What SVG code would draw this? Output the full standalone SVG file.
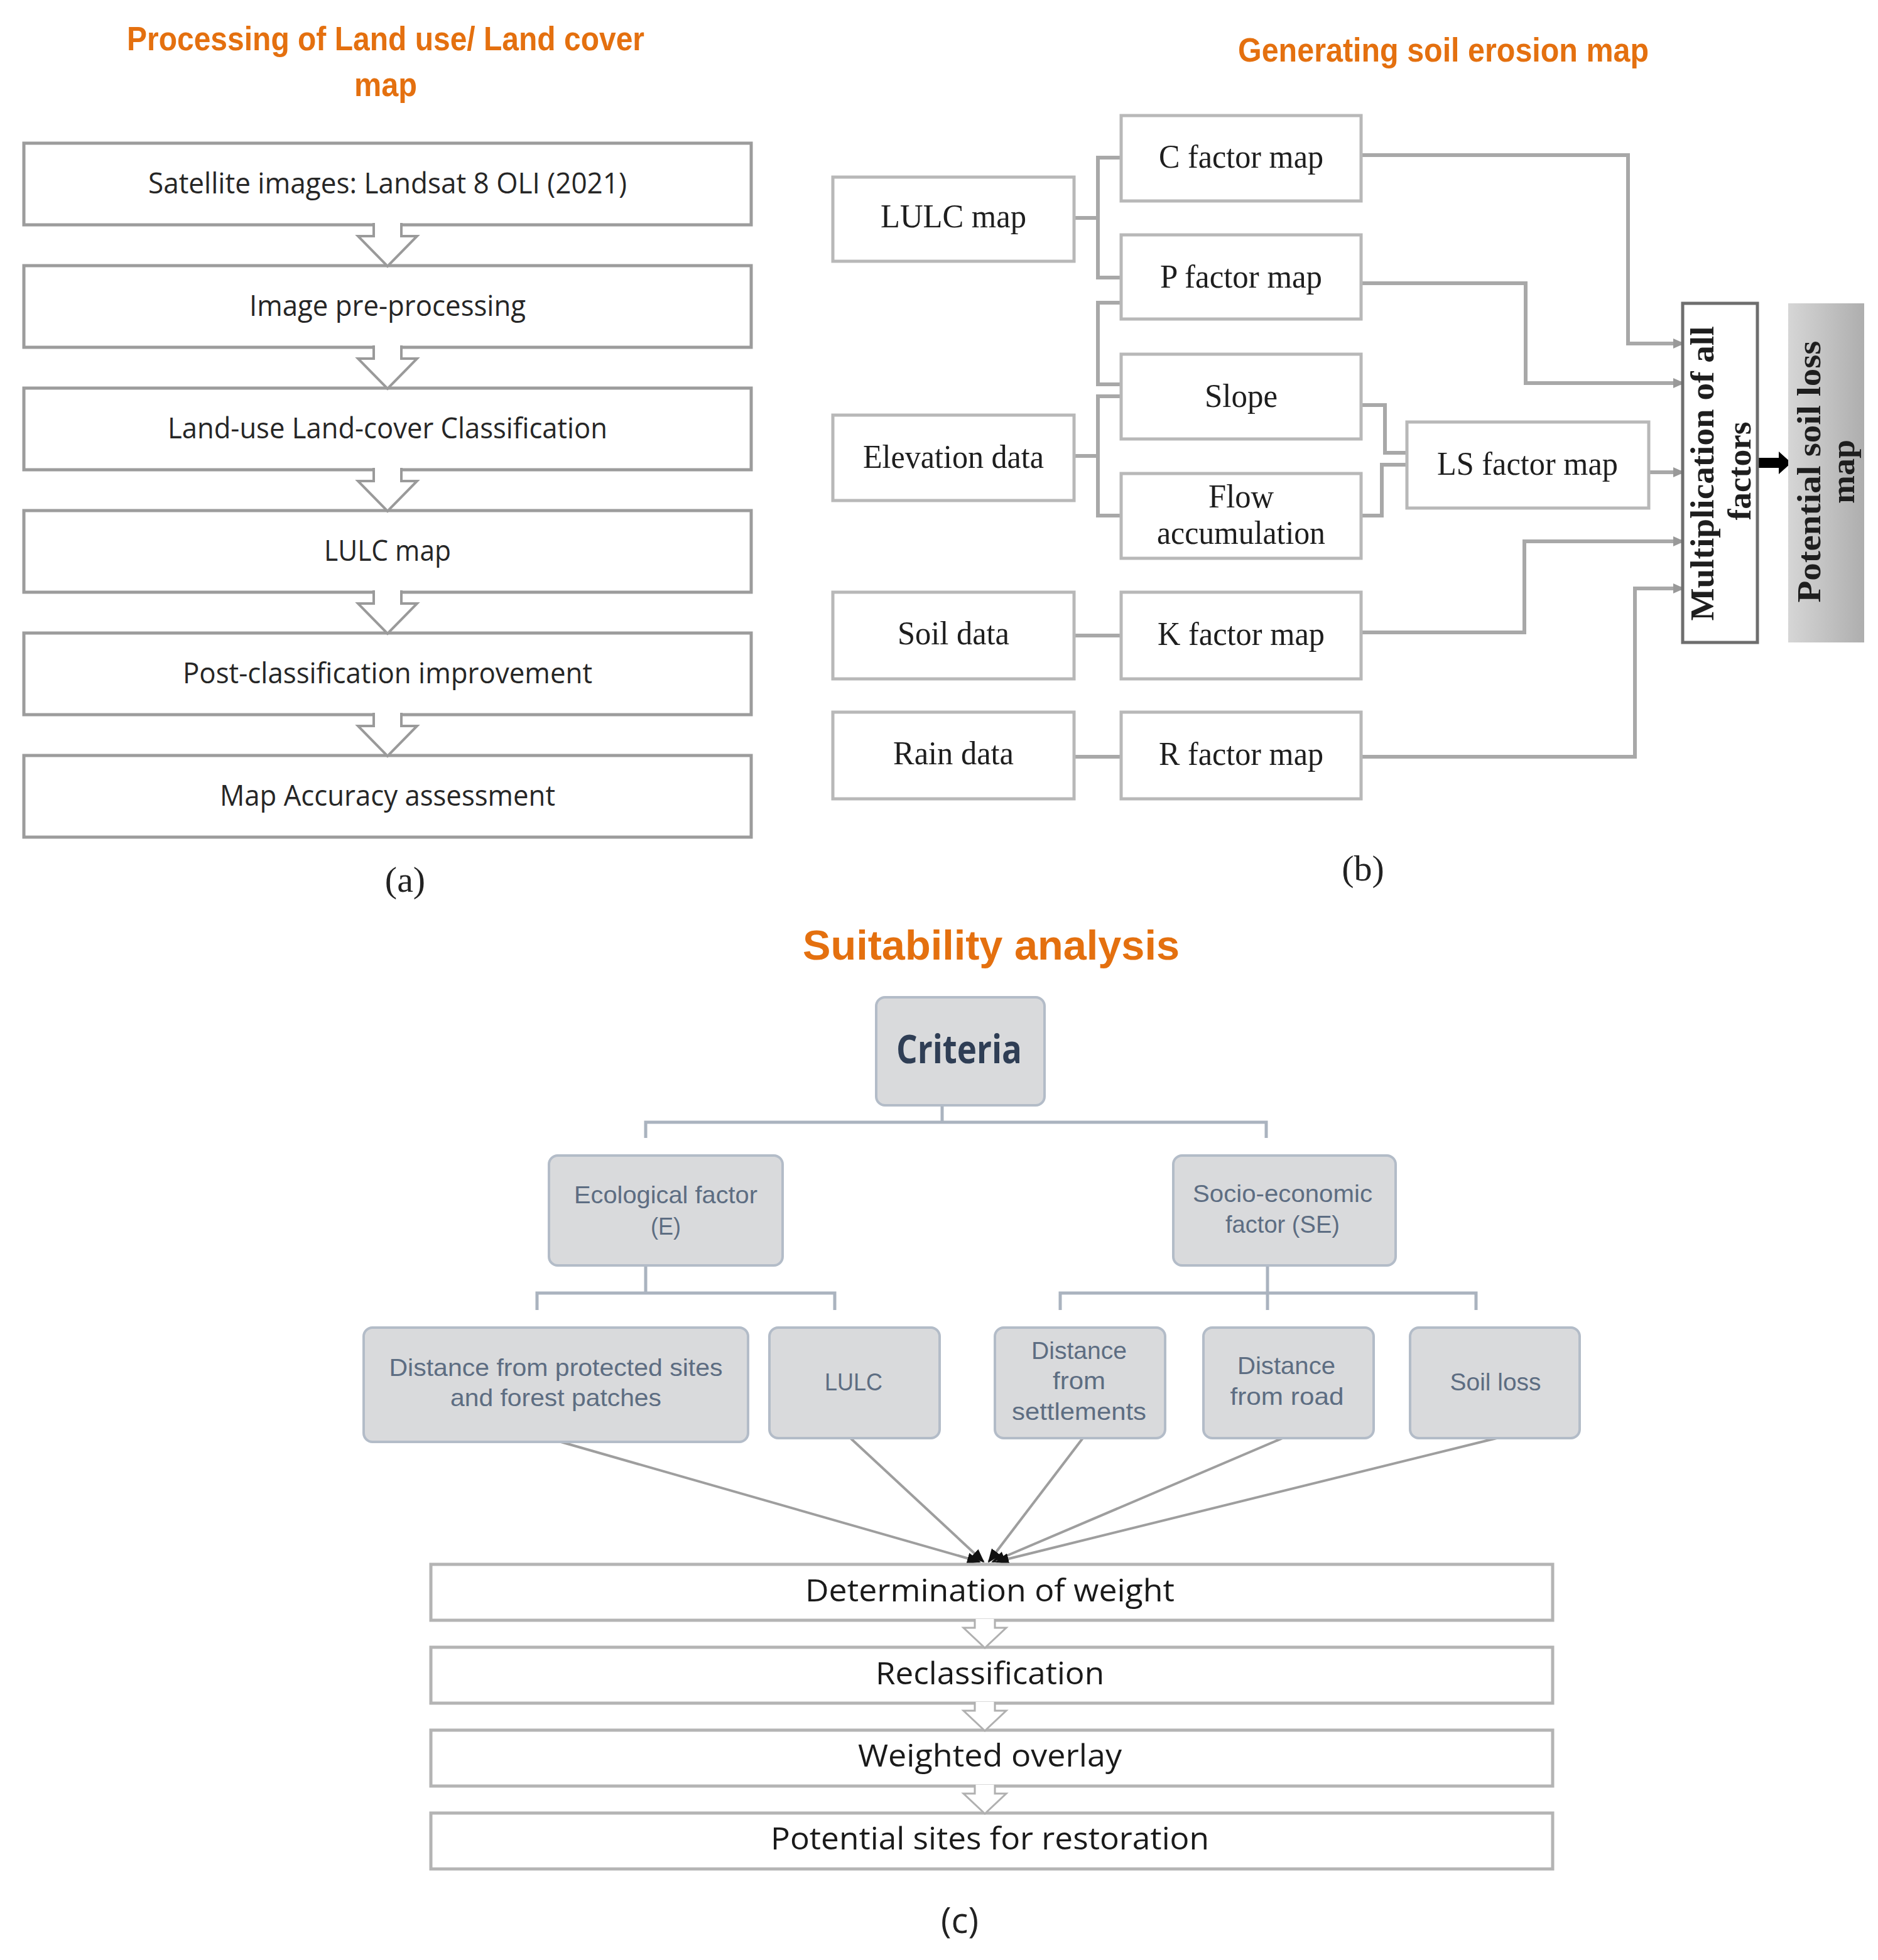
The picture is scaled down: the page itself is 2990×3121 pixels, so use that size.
<svg xmlns="http://www.w3.org/2000/svg" width="2990" height="3121" viewBox="0 0 2990 3121">
<defs>
<style>
.title{font-family:"Liberation Sans","Open Sans",sans-serif;font-weight:bold;fill:#E4700F;text-anchor:middle}
.ta{font-family:"Open Sans","Liberation Sans",sans-serif;font-size:46px;fill:#262626;text-anchor:middle}
.tb{font-family:"Liberation Serif","Times New Roman",serif;font-size:52px;fill:#1e1e1e;text-anchor:middle}
.tbr{font-family:"Liberation Serif","Times New Roman",serif;font-size:52px;font-weight:bold;fill:#1e1e1e;text-anchor:middle}
.tc{font-family:"Liberation Sans","Open Sans",sans-serif;font-size:39px;fill:#5d6d82;text-anchor:middle}
.tcb{font-family:"Open Sans","Liberation Sans",sans-serif;font-size:49px;fill:#1a1a1a;text-anchor:middle}
.lab{font-family:"Liberation Serif","Times New Roman",serif;font-size:58px;fill:#222;text-anchor:middle}
.boxA{fill:#fff;stroke:#9c9c9c;stroke-width:5}
.boxB{fill:#fff;stroke:#b8b8b8;stroke-width:5}
.boxC{fill:#d9dadc;stroke:#b3bcc8;stroke-width:4}
.boxD{fill:#fff;stroke:#b4b4b4;stroke-width:5}
.blk{fill:#fff;stroke:#9a9a9a;stroke-width:4}
.blkc{fill:#fff;stroke:#b0b0b0;stroke-width:3}
.conB{fill:none;stroke:#a8a8a8;stroke-width:6}
.conT{fill:none;stroke:#aab3bf;stroke-width:5}
.conL{fill:none;stroke:#9e9e9e;stroke-width:4}
</style>
<marker id="ag" markerUnits="userSpaceOnUse" markerWidth="18" markerHeight="16" refX="16" refY="8" orient="auto">
<path d="M0,0 L18,8 L0,16 z" fill="#999"/>
</marker>
<marker id="ab" markerUnits="userSpaceOnUse" markerWidth="22" markerHeight="18" refX="20" refY="9" orient="auto">
<path d="M0,0 L22,9 L0,18 z" fill="#111"/>
</marker>
<linearGradient id="gpot" x1="0" y1="0" x2="1" y2="0">
<stop offset="0" stop-color="#d6d6d6"/>
<stop offset="1" stop-color="#aeaeae"/>
</linearGradient>
</defs>
<rect width="2990" height="3121" fill="#fff"/>

<!-- Panel (a) -->
<text class="title" x="614" y="80" font-size="53" textLength="824" lengthAdjust="spacingAndGlyphs">Processing of Land use/ Land cover</text>
<text class="title" x="614" y="153" font-size="53" textLength="100" lengthAdjust="spacingAndGlyphs">map</text>

<g id="a1"><rect class="boxA" x="38" y="228" width="1158" height="130"/><text class="ta" x="617" y="308" textLength="762" lengthAdjust="spacingAndGlyphs">Satellite images: Landsat 8 OLI (2021)</text></g>
<g id="a2"><rect class="boxA" x="38" y="423" width="1158" height="130"/><text class="ta" x="617" y="503" textLength="440" lengthAdjust="spacingAndGlyphs">Image pre-processing</text></g>
<g id="a3"><rect class="boxA" x="38" y="618" width="1158" height="130"/><text class="ta" x="617" y="698" textLength="700" lengthAdjust="spacingAndGlyphs">Land-use Land-cover Classification</text></g>
<g id="a4"><rect class="boxA" x="38" y="813" width="1158" height="130"/><text class="ta" x="617" y="893" textLength="202" lengthAdjust="spacingAndGlyphs">LULC map</text></g>
<g id="a5"><rect class="boxA" x="38" y="1008" width="1158" height="130"/><text class="ta" x="617" y="1088" textLength="652" lengthAdjust="spacingAndGlyphs">Post-classification improvement</text></g>
<g id="a6"><rect class="boxA" x="38" y="1203" width="1158" height="130"/><text class="ta" x="617" y="1283" textLength="534" lengthAdjust="spacingAndGlyphs">Map Accuracy assessment</text></g>

<g id="a-arrows">
<path class="blk" d="M595,355 V376 H570 L617,424 L664,376 H639 V355"/>
<path class="blk" d="M595,550 V571 H570 L617,619 L664,571 H639 V550"/>
<path class="blk" d="M595,745 V766 H570 L617,814 L664,766 H639 V745"/>
<path class="blk" d="M595,940 V961 H570 L617,1009 L664,961 H639 V940"/>
<path class="blk" d="M595,1135 V1156 H570 L617,1204 L664,1156 H639 V1135"/>
</g>
<text class="lab" x="645" y="1420">(a)</text>

<!-- Panel (b) -->
<text class="title" x="2298" y="98" font-size="53" textLength="654" lengthAdjust="spacingAndGlyphs">Generating soil erosion map</text>

<g id="b-connectors">
<path class="conB" d="M1710,347 H1748 M1785,251 H1748 V442 H1785"/>
<path class="conB" d="M1785,482 H1748 V612 H1785"/>
<path class="conB" d="M1710,726 H1748 M1785,631 H1748 V821 H1785"/>
<path class="conB" d="M2167,645 H2205 V721 H2240"/>
<path class="conB" d="M2167,821 H2200 V740 H2240"/>
<path class="conB" d="M1710,1012 H1785"/>
<path class="conB" d="M1710,1205 H1785"/>
<path class="conB" d="M2167,247 H2592 V547 H2680" marker-end="url(#ag)"/>
<path class="conB" d="M2167,451 H2429 V610 H2680" marker-end="url(#ag)"/>
<path class="conB" d="M2625,752 H2680" marker-end="url(#ag)"/>
<path class="conB" d="M2167,1007 H2427 V862 H2680" marker-end="url(#ag)"/>
<path class="conB" d="M2167,1205 H2603 V937 H2680" marker-end="url(#ag)"/>
<path d="M2798,729 H2832 V719 L2852,737 L2832,755 V745 H2798 z" fill="#000"/>
</g>

<g id="b-lulc"><rect class="boxB" x="1326" y="282" width="384" height="134"/><text class="tb" x="1518" y="362" textLength="232" lengthAdjust="spacingAndGlyphs">LULC map</text></g>
<g id="b-c"><rect class="boxB" x="1785" y="184" width="382" height="136"/><text class="tb" x="1976" y="267" textLength="262" lengthAdjust="spacingAndGlyphs">C factor map</text></g>
<g id="b-p"><rect class="boxB" x="1785" y="374" width="382" height="134"/><text class="tb" x="1976" y="458" textLength="258" lengthAdjust="spacingAndGlyphs">P factor map</text></g>
<g id="b-slope"><rect class="boxB" x="1785" y="564" width="382" height="135"/><text class="tb" x="1976" y="648" textLength="116" lengthAdjust="spacingAndGlyphs">Slope</text></g>
<g id="b-elev"><rect class="boxB" x="1326" y="661" width="384" height="136"/><text class="tb" x="1518" y="745" textLength="288" lengthAdjust="spacingAndGlyphs">Elevation data</text></g>
<g id="b-flow"><rect class="boxB" x="1785" y="754" width="382" height="135"/><text class="tb" x="1976" y="808" textLength="104" lengthAdjust="spacingAndGlyphs">Flow</text><text class="tb" x="1976" y="866" textLength="268" lengthAdjust="spacingAndGlyphs">accumulation</text></g>
<g id="b-ls"><rect class="boxB" x="2240" y="672" width="385" height="137"/><text class="tb" x="2432" y="756" textLength="288" lengthAdjust="spacingAndGlyphs">LS factor map</text></g>
<g id="b-soil"><rect class="boxB" x="1326" y="943" width="384" height="138"/><text class="tb" x="1518" y="1026" textLength="178" lengthAdjust="spacingAndGlyphs">Soil data</text></g>
<g id="b-k"><rect class="boxB" x="1785" y="943" width="382" height="138"/><text class="tb" x="1976" y="1027" textLength="266" lengthAdjust="spacingAndGlyphs">K factor map</text></g>
<g id="b-rain"><rect class="boxB" x="1326" y="1134" width="384" height="138"/><text class="tb" x="1518" y="1217" textLength="192" lengthAdjust="spacingAndGlyphs">Rain data</text></g>
<g id="b-r"><rect class="boxB" x="1785" y="1134" width="382" height="138"/><text class="tb" x="1976" y="1218" textLength="262" lengthAdjust="spacingAndGlyphs">R factor map</text></g>
<g id="b-mult"><rect x="2679" y="483" width="119" height="540" fill="#fff" stroke="#6e6e6e" stroke-width="5"/>
<text class="tbr" transform="translate(2728,754) rotate(-90)" x="0" y="0" textLength="469" lengthAdjust="spacingAndGlyphs">Multiplication of all</text>
<text class="tbr" transform="translate(2787,750) rotate(-90)" x="0" y="0" textLength="157" lengthAdjust="spacingAndGlyphs">factors</text></g>
<g id="b-pot"><rect x="2847" y="483" width="121" height="540" fill="url(#gpot)"/>
<text class="tbr" transform="translate(2898,751) rotate(-90)" x="0" y="0" textLength="417" lengthAdjust="spacingAndGlyphs">Potential soil loss</text>
<text class="tbr" transform="translate(2952,751) rotate(-90)" x="0" y="0" textLength="102" lengthAdjust="spacingAndGlyphs">map</text></g>
<text class="lab" x="2170" y="1402">(b)</text>

<!-- Panel (c) -->
<text class="title" x="1578" y="1528" font-size="66" textLength="600" lengthAdjust="spacingAndGlyphs">Suitability analysis</text>

<g id="c-tree">
<path class="conT" d="M1500,1760 V1787 M1028,1812 V1787 H2016 V1812"/>
<path class="conT" d="M1028,2015 V2059 M855,2086 V2059 H1329 V2086"/>
<path class="conT" d="M2018,2015 V2086 M1688,2086 V2059 H2350 V2086"/>
</g>
<g id="c-lines">
<path class="conL" d="M886,2294 L1560,2487" marker-end="url(#ab)"/>
<path class="conL" d="M1354,2290 L1566,2487" marker-end="url(#ab)"/>
<path class="conL" d="M1724,2290 L1574,2487" marker-end="url(#ab)"/>
<path class="conL" d="M2042,2290 L1580,2487" marker-end="url(#ab)"/>
<path class="conL" d="M2383,2290 L1586,2487" marker-end="url(#ab)"/>
</g>

<g id="c-criteria"><rect class="boxC" x="1395" y="1588" width="268" height="172" rx="14"/><text x="1527" y="1693" font-family="'Open Sans','Liberation Sans',sans-serif" font-size="62" font-weight="bold" fill="#2f3e55" text-anchor="middle" textLength="200" lengthAdjust="spacingAndGlyphs">Criteria</text></g>
<g id="c-eco"><rect class="boxC" x="874" y="1840" width="372" height="175" rx="14"/><text class="tc" x="1060" y="1916" textLength="292" lengthAdjust="spacingAndGlyphs">Ecological factor</text><text class="tc" x="1060" y="1966" textLength="48" lengthAdjust="spacingAndGlyphs">(E)</text></g>
<g id="c-socio"><rect class="boxC" x="1868" y="1840" width="354" height="175" rx="14"/><text class="tc" x="2042" y="1914" textLength="286" lengthAdjust="spacingAndGlyphs">Socio-economic</text><text class="tc" x="2042" y="1963" textLength="182" lengthAdjust="spacingAndGlyphs">factor (SE)</text></g>
<g id="c-prot"><rect class="boxC" x="579" y="2114" width="612" height="182" rx="14"/><text class="tc" x="885" y="2191" textLength="531" lengthAdjust="spacingAndGlyphs">Distance from protected sites</text><text class="tc" x="885" y="2239" textLength="336" lengthAdjust="spacingAndGlyphs">and forest patches</text></g>
<g id="c-lulc"><rect class="boxC" x="1225" y="2114" width="271" height="176" rx="14"/><text class="tc" x="1359" y="2214" textLength="92" lengthAdjust="spacingAndGlyphs">LULC</text></g>
<g id="c-settle"><rect class="boxC" x="1584" y="2114" width="271" height="176" rx="14"/><text class="tc" x="1718" y="2164" textLength="152" lengthAdjust="spacingAndGlyphs">Distance</text><text class="tc" x="1718" y="2212" textLength="84" lengthAdjust="spacingAndGlyphs">from</text><text class="tc" x="1718" y="2261" textLength="214" lengthAdjust="spacingAndGlyphs">settlements</text></g>
<g id="c-road"><rect class="boxC" x="1916" y="2114" width="271" height="176" rx="14"/><text class="tc" x="2048" y="2188" textLength="156" lengthAdjust="spacingAndGlyphs">Distance</text><text class="tc" x="2049" y="2237" textLength="181" lengthAdjust="spacingAndGlyphs">from road</text></g>
<g id="c-soil"><rect class="boxC" x="2245" y="2114" width="270" height="176" rx="14"/><text class="tc" x="2381" y="2214" textLength="145" lengthAdjust="spacingAndGlyphs">Soil loss</text></g>

<g id="c-weight"><rect class="boxD" x="686" y="2491" width="1786" height="89"/><text class="tcb" x="1576" y="2550" textLength="588" lengthAdjust="spacingAndGlyphs">Determination of weight</text></g>
<g id="c-reclass"><rect class="boxD" x="686" y="2623" width="1786" height="89"/><text class="tcb" x="1576" y="2682" textLength="364" lengthAdjust="spacingAndGlyphs">Reclassification</text></g>
<g id="c-overlay"><rect class="boxD" x="686" y="2755" width="1786" height="89"/><text class="tcb" x="1576" y="2813" textLength="420" lengthAdjust="spacingAndGlyphs">Weighted overlay</text></g>
<g id="c-sites"><rect class="boxD" x="686" y="2887" width="1786" height="89"/><text class="tcb" x="1576" y="2945" textLength="698" lengthAdjust="spacingAndGlyphs">Potential sites for restoration</text></g>
<g id="c-arrows">
<path class="blkc" d="M1552,2578 V2592 H1534 L1568,2624 L1602,2592 H1584 V2578"/>
<path class="blkc" d="M1552,2710 V2724 H1534 L1568,2756 L1602,2724 H1584 V2710"/>
<path class="blkc" d="M1552,2842 V2856 H1534 L1568,2888 L1602,2856 H1584 V2842"/>
</g>
<text x="1528" y="3078" font-family="'Open Sans','Liberation Sans',sans-serif" font-size="56" fill="#222" text-anchor="middle">(c)</text>
</svg>
